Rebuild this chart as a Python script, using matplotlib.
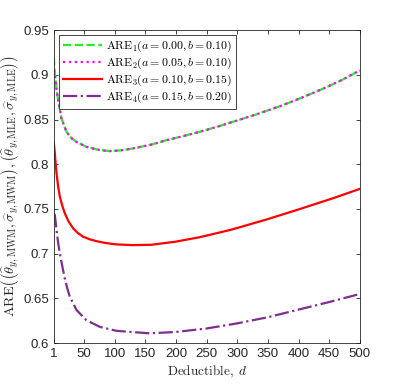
import numpy as np
import matplotlib
matplotlib.use("Agg")
import matplotlib.pyplot as plt

plt.rcParams["font.family"] = ["Liberation Sans", "DejaVu Sans"]
plt.rcParams["mathtext.fontset"] = "cm"

# values
d_12 = [1, 1.5, 2.6, 5, 8, 13.5, 21.7, 30, 38, 54, 76, 92, 110, 130, 160, 185, 215, 239,
        270, 293, 330, 370, 400, 440, 470, 500]
are1 = [0.920, 0.912, 0.9016, 0.885, 0.872, 0.851, 0.836, 0.829, 0.825, 0.8195, 0.8158, 0.8147,
        0.8155, 0.8177, 0.822, 0.827, 0.832, 0.8363, 0.8425, 0.8475, 0.8555, 0.865, 0.873,
        0.8845, 0.894, 0.905]
are2 = [0.905, 0.903, 0.9016, 0.885, 0.872, 0.851, 0.836, 0.829, 0.825, 0.8195, 0.8158, 0.8147,
        0.8155, 0.8177, 0.822, 0.827, 0.832, 0.8363, 0.8425, 0.8475, 0.8555, 0.865, 0.873,
        0.8845, 0.894, 0.905]

d_3 = [1, 1.8, 2.6, 4, 5.4, 8, 10.8, 15, 19, 25, 32.5, 40, 49, 60, 70.6, 85, 103, 130, 160,
       200, 239, 290, 348, 400, 457, 500]
are3 = [0.824, 0.818, 0.812, 0.800, 0.7897, 0.775, 0.7636, 0.753, 0.745, 0.736, 0.7283, 0.7232,
        0.7189, 0.716, 0.7140, 0.712, 0.7104, 0.7096, 0.7100, 0.7135, 0.7185, 0.7268, 0.7383,
        0.7495, 0.7622, 0.7725]

d_4 = [1, 2.6, 4, 5.4, 8, 10.8, 15, 19, 23, 27, 38, 54, 76, 103, 125, 157, 200, 250, 299,
       350, 397, 450, 500]
are4 = [0.745, 0.7431, 0.735, 0.7264, 0.712, 0.700, 0.685, 0.672, 0.661, 0.6518, 0.637, 0.6257,
        0.6182, 0.6138, 0.6126, 0.611, 0.6125, 0.6164, 0.622, 0.629, 0.637, 0.646, 0.655]

labels = [
    r"$\mathrm{ARE}_1(a = 0.00, b = 0.10)$",
    r"$\mathrm{ARE}_2(a = 0.05, b = 0.10)$",
    r"$\mathrm{ARE}_3(a = 0.10, b = 0.15)$",
    r"$\mathrm{ARE}_4(a = 0.15, b = 0.20)$",
]
x_ticks = [1, 50, 100, 150, 200, 250, 300, 350, 400, 450, 500]
y_ticks = [0.6, 0.65, 0.7, 0.75, 0.8, 0.85, 0.9, 0.95]
y_ticklabels = ["0.6", "0.65", "0.7", "0.75", "0.8", "0.85", "0.9", "0.95"]

fig = plt.figure(figsize=(3.99, 3.86), dpi=100)
ax = fig.add_axes([0.135, 0.111, 0.767, 0.811])

ax.plot(d_12, are1, "--", color="#22ee22", lw=1.6, label=labels[0])
ax.plot(d_12, are2, ":", color="#ff00ff", lw=1.6, label=labels[1])
ax.plot(d_3, are3, "-", color="#ff0000", lw=1.6, label=labels[2])
ax.plot(d_4, are4, "-.", color="#7e2f8e", lw=1.6, label=labels[3])

ax.set_xlim(1, 500)
ax.set_ylim(0.6, 0.95)
ax.set_xticks(x_ticks)
ax.set_xticklabels([str(t) for t in x_ticks])
ax.set_yticks(y_ticks)
ax.set_yticklabels(y_ticklabels)
ax.tick_params(direction="in", top=True, right=True, labelsize=9.5, colors="#262626",
               length=3, width=0.6)
for s in ax.spines.values():
    s.set_color("#262626")
    s.set_linewidth(0.6)

ax.set_xlabel(r"$\mathrm{Deductible},\ d$", fontsize=9.5, color="#262626", labelpad=3)
ax.set_ylabel(r"$\mathrm{ARE}\left(\left(\widehat{\theta}_{y,\mathrm{MWM}},\widehat{\sigma}_{y,\mathrm{MWM}}\right),"
              r"\left(\widehat{\theta}_{y,\mathrm{MLE}},\widehat{\sigma}_{y,\mathrm{MLE}}\right)\right)$",
              fontsize=10.2, color="#262626", labelpad=1)

leg = ax.legend(loc="upper left", fontsize=8.5, handlelength=3.3, borderpad=0.3,
                labelspacing=0.15, handletextpad=0.35, fancybox=False, framealpha=1,
                borderaxespad=0.45)
leg.get_frame().set_edgecolor("#262626")
leg.get_frame().set_linewidth(0.6)

fig.savefig("out.png", dpi=100)
